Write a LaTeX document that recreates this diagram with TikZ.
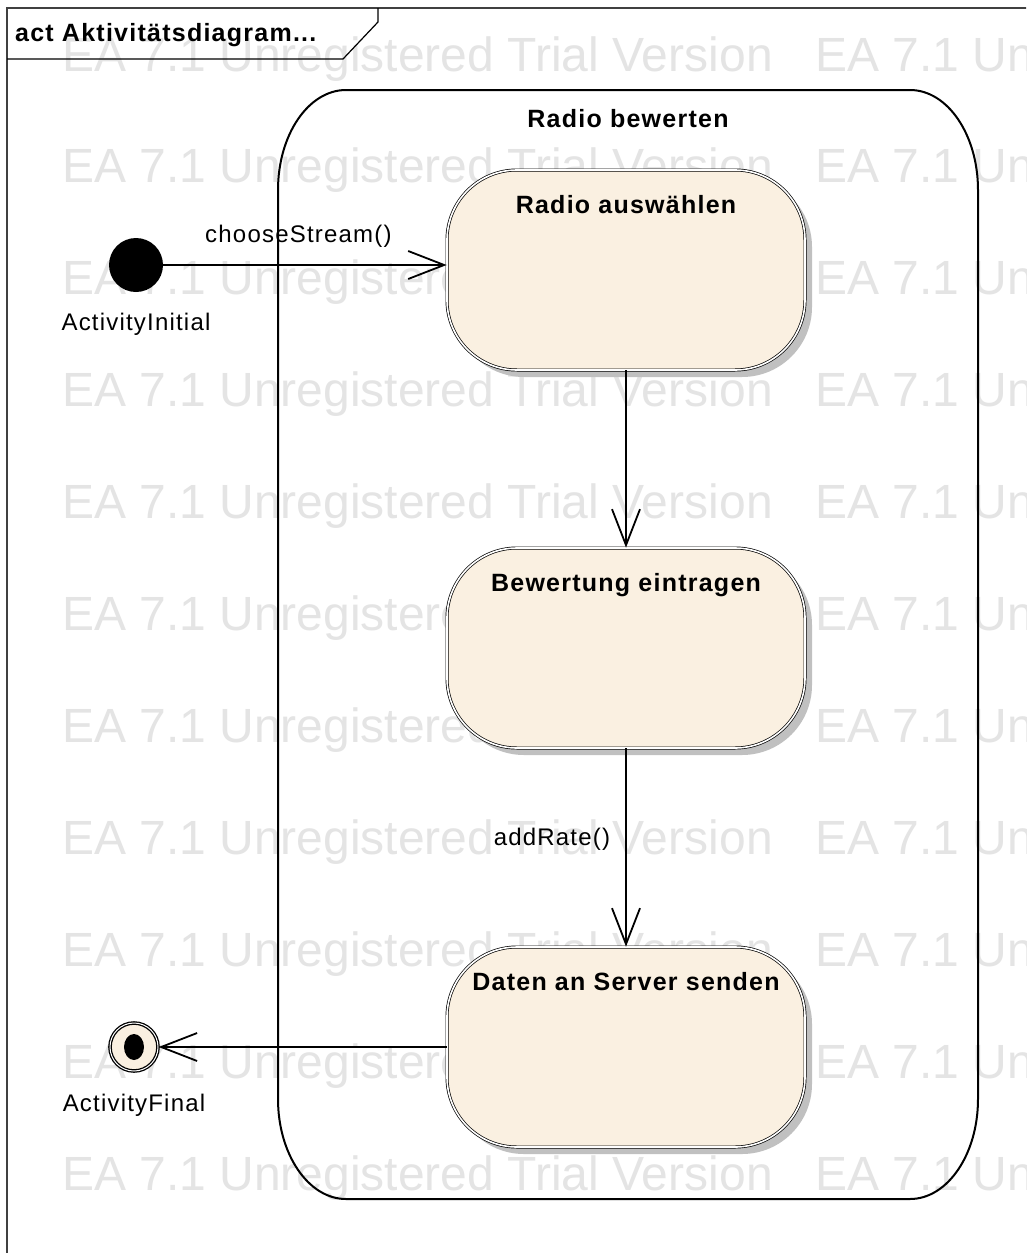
\documentclass[tikz,border=0pt]{standalone}
\usepackage{fontspec}
\setmainfont{Liberation Sans}
\newfontfamily\easpaced[LetterSpace=5]{Liberation Sans}
\usetikzlibrary{positioning,arrows.meta,shadows}
\definecolor{actfill}{RGB}{250,240,225}
\definecolor{wmgray}{RGB}{228,228,228}
\definecolor{shadegray}{RGB}{192,192,192}

\begin{document}
\begin{tikzpicture}[x=1pt,y=-1pt,
  boldtxt/.style={font=\fontsize{25}{30}\selectfont\easpaced\bfseries,inner sep=0},
  lbl/.style={font=\fontsize{24}{28}\selectfont\easpaced,inner sep=0},
  wmark/.style={font=\fontsize{48}{56}\selectfont,text=wmgray,inner sep=0,anchor=base west},
  action/.style={rectangle,rounded corners=70pt,minimum width=358pt,minimum height=200pt,
    draw,line width=.7pt,double,double distance=1.6pt,fill=actfill,
    drop shadow={shadow xshift=7pt,shadow yshift=-7pt,fill=shadegray,opacity=1}},
  flow/.style={line width=1.8pt,-{Straight Barb[length=36pt,width=28pt]}}
]
\useasboundingbox (0,0) rectangle (1026,1253);
\clip (0,0) rectangle (1026,1253);
\fill[white] (0,0) rectangle (1026,1253);

\foreach \r in {0,...,10}
  \foreach \c in {62,815}
    \node[wmark] at (\c,71+111.9*\r) {EA 7.1 Unregistered Trial Version};

\draw[black!75,line width=1.5pt] (7,8) rectangle (1040,1270);
\draw[line width=1.2pt] (7,59) -- (343,59) -- (378,22) -- (378,8);
\node[boldtxt,anchor=base west] (title) at (15,41) {act Aktivitätsdiagram...};

\draw[line width=2pt] (278,190) arc[start angle=180,end angle=270,x radius=68,y radius=100]
  -- (910,90) arc[start angle=270,end angle=360,x radius=68,y radius=100]
  -- (978,1099) arc[start angle=0,end angle=90,x radius=68,y radius=100]
  -- (346,1199) arc[start angle=90,end angle=180,x radius=68,y radius=100] -- cycle;
\node[boldtxt,anchor=base] (group) at (628,127) {Radio bewerten};

\node[action] (ra) at (626,270) {};
\node[boldtxt,below=44pt of ra.north,anchor=base] {Radio auswählen};
\node[action] (be) at (626,648) {};
\node[boldtxt,below=44pt of be.north,anchor=base] {Bewertung eintragen};
\node[action] (ds) at (626,1047) {};
\node[boldtxt,below=44pt of ds.north,anchor=base] {Daten an Server senden};

\node[circle,fill,minimum size=54pt,inner sep=0] (init) at (136,265) {};
\node[lbl,below=38pt of init.south,anchor=base] {ActivityInitial};
\node[circle,draw,line width=1.3pt,double,double distance=1pt,fill=actfill,
  minimum size=48pt,inner sep=0] (fin) at (134,1047) {};
\fill (fin.center) ellipse[x radius=10,y radius=13];
\node[lbl,below=40pt of fin.south,anchor=base] {ActivityFinal};

\draw[flow] (init) -- node[lbl,pos=.477,anchor=base,yshift=23pt] {chooseStream()} (ra.west |- init);
\draw[flow] (ra) -- (be);
\draw[flow] (be) -- node[lbl,anchor=base east,xshift=-15pt,yshift=2pt] {addRate()} (ds);
\draw[flow] (ds) -- (fin);
\end{tikzpicture}
\end{document}
